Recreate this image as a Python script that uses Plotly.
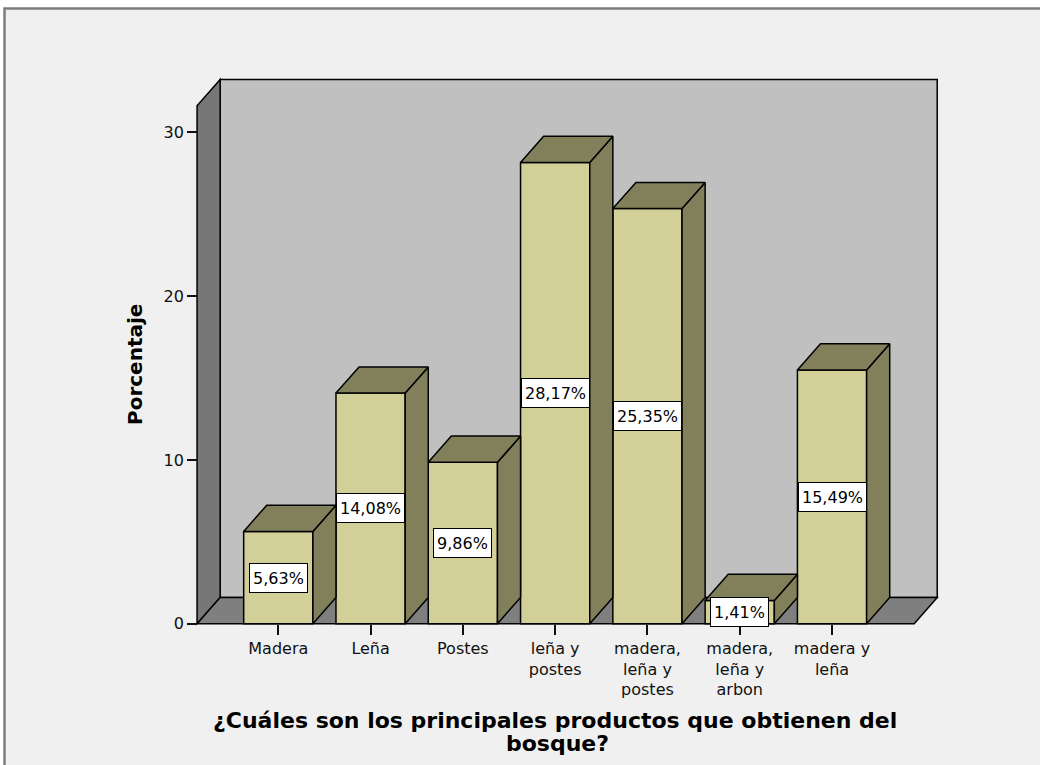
import plotly.graph_objects as go

# ---- data -------------------------------------------------------------
categories = ["Madera", "Leña", "Postes", "leña y<br>postes",
              "madera,<br>leña y<br>postes", "madera,<br>leña y<br>arbon",
              "madera y<br>leña"]
porcentajes = [5.63, 14.08, 9.86, 28.17, 25.35, 1.41, 15.49]
value_labels = ["5,63%", "14,08%", "9,86%", "28,17%", "25,35%", "1,41%", "15,49%"]
y_ticks = [0, 10, 20, 30]

title_lines = ["¿Cuáles son los principales productos que obtienen del", "bosque?"]
y_title = "Porcentaje"

# ---- pseudo-3D box geometry (data units) -------------------------------
BAR_W = 0.75
DX, DY = 0.25, 1.6          # depth offset of the back plane
X_LEFT, X_RIGHT = -0.88, 6.89
WALL_TOP = 31.63

X_RANGE = [-1.0, 7.3]
Y_RANGE = [-1.0, 34.0]

# ---- page layout (pixels) ----------------------------------------------
FIG_W, FIG_H = 1040, 765
L, R, T, B = 186, 88, 67, 125
PW, PH = FIG_W - L - R, FIG_H - T - B

FONT = "DejaVu Sans"
FRONT = "#d3cf98"
OLIVE = "#81805b"
BACK_WALL = "#c0c0c0"
SIDE_WALL = "#777777"
FLOOR = "#7f7f7f"
EDGE = "#000000"


def px(xp):
    return (xp - L) / PW


def py(yp):
    return (T + PH - yp) / PH


def path(points):
    return "M " + " L ".join(f"{x},{y}" for x, y in points) + " Z"


fig = go.Figure()

# bar fronts
fig.add_trace(go.Bar(
    x=list(range(len(categories))), y=porcentajes, width=BAR_W,
    marker=dict(color=FRONT, line=dict(color=EDGE, width=1.5)),
    hoverinfo="skip", showlegend=False,
))

# bar sides and tops
side_x, side_y, top_x, top_y = [], [], [], []
for i, v in enumerate(porcentajes):
    xr = i + BAR_W / 2
    xl = i - BAR_W / 2
    side_x += [xr, xr, xr + DX, xr + DX, xr, None]
    side_y += [0, v, v + DY, DY, 0, None]
    top_x += [xl, xr, xr + DX, xl + DX, xl, None]
    top_y += [v, v, v + DY, v + DY, v, None]

for xs, ys in [(side_x, side_y), (top_x, top_y)]:
    fig.add_trace(go.Scatter(
        x=xs, y=ys, mode="lines", fill="toself", fillcolor=OLIVE,
        line=dict(color=EDGE, width=1.5), hoverinfo="skip", showlegend=False,
    ))

shapes = [
    # outer frame
    dict(type="rect", xref="paper", yref="paper",
         x0=px(4.5), x1=px(1050), y0=py(775), y1=py(8.5),
         fillcolor="#f0f0f0", line=dict(color="#7d7d7d", width=2.5),
         layer="below"),
    # back wall
    dict(type="path", xref="x", yref="y", layer="below",
         path=path([(X_LEFT + DX, DY), (X_RIGHT + DX, DY),
                    (X_RIGHT + DX, WALL_TOP + DY), (X_LEFT + DX, WALL_TOP + DY)]),
         fillcolor=BACK_WALL, line=dict(color=EDGE, width=1.5)),
    # left wall
    dict(type="path", xref="x", yref="y", layer="below",
         path=path([(X_LEFT, 0), (X_LEFT, WALL_TOP),
                    (X_LEFT + DX, WALL_TOP + DY), (X_LEFT + DX, DY)]),
         fillcolor=SIDE_WALL, line=dict(color=EDGE, width=1.5)),
    # floor
    dict(type="path", xref="x", yref="y", layer="below",
         path=path([(X_LEFT, 0), (X_RIGHT, 0),
                    (X_RIGHT + DX, DY), (X_LEFT + DX, DY)]),
         fillcolor=FLOOR, line=dict(color=EDGE, width=1.5)),
]

annotations = []
for i, (v, lab) in enumerate(zip(porcentajes, value_labels)):
    annotations.append(dict(
        x=i, y=v / 2, xref="x", yref="y", text=lab, showarrow=False,
        height=22, valign="middle",
        bgcolor="white", bordercolor=EDGE, borderwidth=1, borderpad=3,
        font=dict(family=FONT, size=16, color="black"),
    ))

annotations += [
    dict(x=px(555), y=py(720), xref="paper", yref="paper", text=title_lines[0],
         showarrow=False, xanchor="center", yanchor="middle",
         font=dict(family=FONT, size=22, color="black", weight="bold")),
    dict(x=px(557), y=py(743), xref="paper", yref="paper", text=title_lines[1],
         showarrow=False, xanchor="center", yanchor="middle",
         font=dict(family=FONT, size=22, color="black", weight="bold")),
    dict(x=px(135), y=py(365), xref="paper", yref="paper", text=y_title,
         showarrow=False, textangle=-90, xanchor="center", yanchor="middle",
         font=dict(family=FONT, size=20, color="black", weight="bold")),
]

fig.update_layout(
    width=FIG_W, height=FIG_H,
    margin=dict(l=L, r=R, t=T, b=B, pad=0),
    paper_bgcolor="white", plot_bgcolor="rgba(0,0,0,0)",
    shapes=shapes, annotations=annotations,
    showlegend=False, barmode="overlay",
    xaxis=dict(
        range=X_RANGE, tickmode="array",
        tickvals=list(range(len(categories))), ticktext=categories,
        anchor="free", position=(0 - Y_RANGE[0]) / (Y_RANGE[1] - Y_RANGE[0]),
        showgrid=False, zeroline=False, showline=False,
        ticks="outside", ticklen=10, tickwidth=1.5, tickcolor="#111",
        tickfont=dict(family=FONT, size=16, color="#111"),
    ),
    yaxis=dict(
        range=Y_RANGE, tickmode="array", tickvals=y_ticks,
        anchor="free", position=(X_LEFT - X_RANGE[0]) / (X_RANGE[1] - X_RANGE[0]),
        showgrid=False, zeroline=False, showline=False,
        ticks="outside", ticklen=10, tickwidth=1.5, tickcolor="#111",
        tickfont=dict(family=FONT, size=16, color="#111"),
    ),
)

fig.write_html("out.html")
